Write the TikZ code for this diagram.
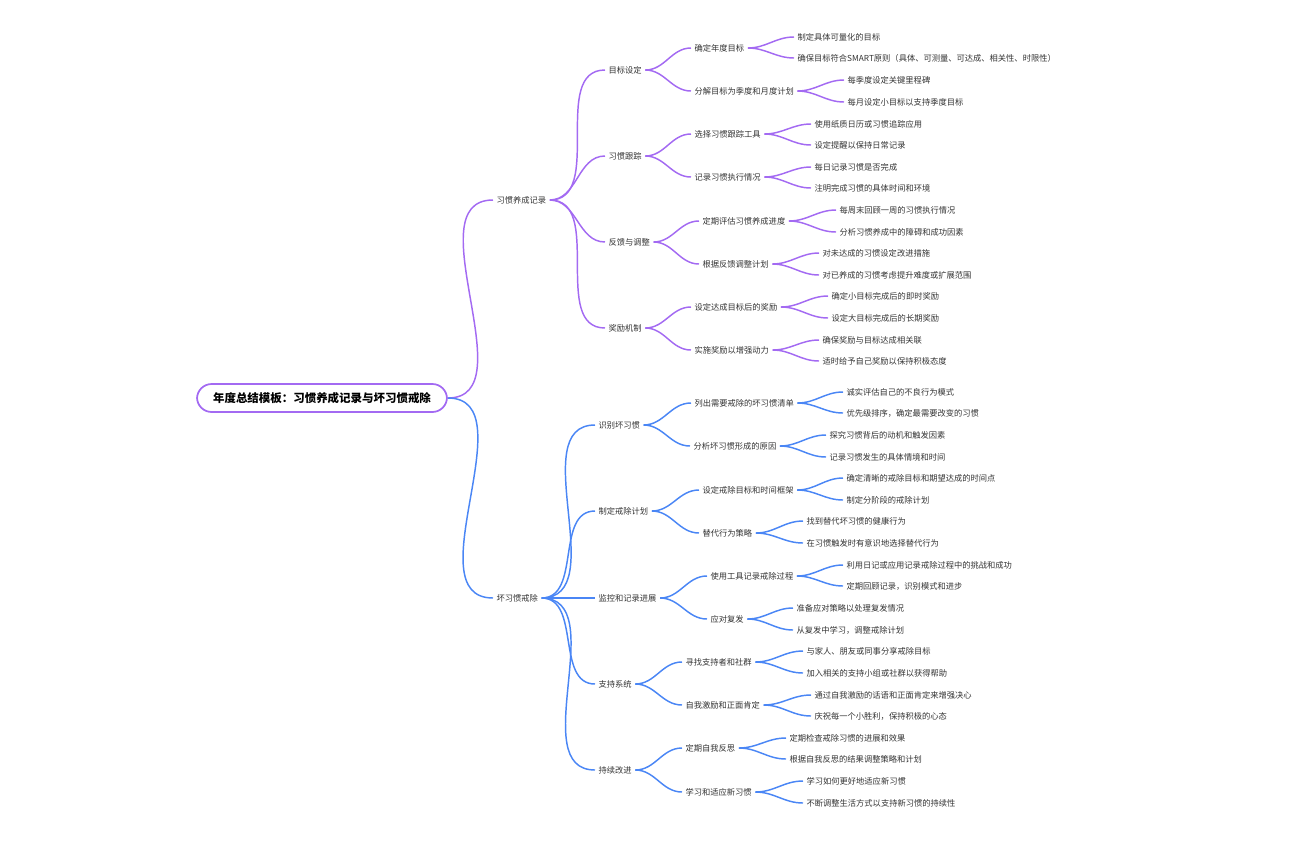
\documentclass[tikz,border=0pt]{standalone}
\usepackage{fontspec}
\setmainfont{Noto Sans CJK SC}
\definecolor{hpurple}{HTML}{A36AF2}
\definecolor{bblue}{HTML}{4A86F5}
\definecolor{txt}{HTML}{333333}
\tikzset{
  item/.style={anchor=west, inner sep=2.5pt, text=txt, font=\fontsize{6.2}{7}\selectfont},
  rootbox/.style={draw=hpurple, line width=1.3pt, rounded corners=11pt, fill=white,
    minimum width=187.5pt, minimum height=21pt, text=black, font=\fontsize{8.6}{10}\bfseries\selectfont},
  link/.style={line width=1.1pt, out=0, in=180},
}
\begin{document}
\begin{tikzpicture}[x=0.75pt, y=-0.75pt]
\useasboundingbox (0,0) rectangle (1296,840);

% root and main branches
\node[rootbox] (root) at (322,398) {年度总结模板：习惯养成记录与坏习惯戒除};
\node[item] (h) at (493,200) {习惯养成记录};
\node[item] (b) at (493,598) {坏习惯戒除};

% habit building
\node[item] (h1) at (605,70) {目标设定};
\node[item] (h11) at (691,48) {确定年度目标};
\node[item] (h111) at (794,37) {制定具体可量化的目标};
\node[item] (h112) at (794,58) {确保目标符合SMART原则（具体、可测量、可达成、相关性、时限性）};
\node[item] (h12) at (691,91) {分解目标为季度和月度计划};
\node[item] (h121) at (844,80) {每季度设定关键里程碑};
\node[item] (h122) at (844,102) {每月设定小目标以支持季度目标};
\node[item] (h2) at (605,156) {习惯跟踪};
\node[item] (h21) at (691,134) {选择习惯跟踪工具};
\node[item] (h211) at (811,124) {使用纸质日历或习惯追踪应用};
\node[item] (h212) at (811,145) {设定提醒以保持日常记录};
\node[item] (h22) at (691,177) {记录习惯执行情况};
\node[item] (h221) at (811,167) {每日记录习惯是否完成};
\node[item] (h222) at (811,188) {注明完成习惯的具体时间和环境};
\node[item] (h3) at (605,242) {反馈与调整};
\node[item] (h31) at (699,221) {定期评估习惯养成进度};
\node[item] (h311) at (836,210) {每周末回顾一周的习惯执行情况};
\node[item] (h312) at (836,232) {分析习惯养成中的障碍和成功因素};
\node[item] (h32) at (699,264) {根据反馈调整计划};
\node[item] (h321) at (819,253) {对未达成的习惯设定改进措施};
\node[item] (h322) at (819,275) {对已养成的习惯考虑提升难度或扩展范围};
\node[item] (h4) at (605,328) {奖励机制};
\node[item] (h41) at (691,307) {设定达成目标后的奖励};
\node[item] (h411) at (828,296) {确定小目标完成后的即时奖励};
\node[item] (h412) at (828,318) {设定大目标完成后的长期奖励};
\node[item] (h42) at (691,350) {实施奖励以增强动力};
\node[item] (h421) at (819,340) {确保奖励与目标达成相关联};
\node[item] (h422) at (819,361) {适时给予自己奖励以保持积极态度};

% breaking bad habits
\node[item] (b1) at (595,425) {识别坏习惯};
\node[item] (b11) at (691,403) {列出需要戒除的坏习惯清单};
\node[item] (b111) at (843,392) {诚实评估自己的不良行为模式};
\node[item] (b112) at (843,413) {优先级排序，确定最需要改变的习惯};
\node[item] (b12) at (690,446) {分析坏习惯形成的原因};
\node[item] (b121) at (826,435) {探究习惯背后的动机和触发因素};
\node[item] (b122) at (826,457) {记录习惯发生的具体情境和时间};
\node[item] (b2) at (595,511) {制定戒除计划};
\node[item] (b21) at (699,490) {设定戒除目标和时间框架};
\node[item] (b211) at (843,478) {确定清晰的戒除目标和期望达成的时间点};
\node[item] (b212) at (843,500) {制定分阶段的戒除计划};
\node[item] (b22) at (699,533) {替代行为策略};
\node[item] (b221) at (803,521) {找到替代坏习惯的健康行为};
\node[item] (b222) at (803,543) {在习惯触发时有意识地选择替代行为};
\node[item] (b3) at (595,598) {监控和记录进展};
\node[item] (b31) at (707,576) {使用工具记录戒除过程};
\node[item] (b311) at (843,565) {利用日记或应用记录戒除过程中的挑战和成功};
\node[item] (b312) at (843,586) {定期回顾记录，识别模式和进步};
\node[item] (b32) at (707,619) {应对复发};
\node[item] (b321) at (793,608) {准备应对策略以处理复发情况};
\node[item] (b322) at (793,630) {从复发中学习，调整戒除计划};
\node[item] (b4) at (595,684) {支持系统};
\node[item] (b41) at (682,662) {寻找支持者和社群};
\node[item] (b411) at (803,651) {与家人、朋友或同事分享戒除目标};
\node[item] (b412) at (803,673) {加入相关的支持小组或社群以获得帮助};
\node[item] (b42) at (682,705) {自我激励和正面肯定};
\node[item] (b421) at (811,695) {通过自我激励的话语和正面肯定来增强决心};
\node[item] (b422) at (811,716) {庆祝每一个小胜利，保持积极的心态};
\node[item] (b5) at (595,770) {持续改进};
\node[item] (b51) at (682,748) {定期自我反思};
\node[item] (b511) at (786,738) {定期检查戒除习惯的进展和效果};
\node[item] (b512) at (786,759) {根据自我反思的结果调整策略和计划};
\node[item] (b52) at (682,792) {学习和适应新习惯};
\node[item] (b521) at (803,781) {学习如何更好地适应新习惯};
\node[item] (b522) at (803,803) {不断调整生活方式以支持新习惯的持续性};

% connectors
\draw[link, hpurple] (root.east) to (h.west);
\draw[link, bblue] (root.east) to (b.west);
\foreach \p/\c in {h/h1, h/h2, h/h3, h/h4, h1/h11, h1/h12, h2/h21, h2/h22, h3/h31, h3/h32, h4/h41, h4/h42,
    h11/h111, h11/h112, h12/h121, h12/h122, h21/h211, h21/h212, h22/h221, h22/h222,
    h31/h311, h31/h312, h32/h321, h32/h322, h41/h411, h41/h412, h42/h421, h42/h422}
  \draw[link, hpurple] (\p.east) to (\c.west);
\foreach \p/\c in {b/b1, b/b2, b/b3, b/b4, b/b5, b1/b11, b1/b12, b2/b21, b2/b22, b3/b31, b3/b32,
    b4/b41, b4/b42, b5/b51, b5/b52,
    b11/b111, b11/b112, b12/b121, b12/b122, b21/b211, b21/b212, b22/b221, b22/b222,
    b31/b311, b31/b312, b32/b321, b32/b322, b41/b411, b41/b412, b42/b421, b42/b422,
    b51/b511, b51/b512, b52/b521, b52/b522}
  \draw[link, bblue] (\p.east) to (\c.west);
\end{tikzpicture}
\end{document}
